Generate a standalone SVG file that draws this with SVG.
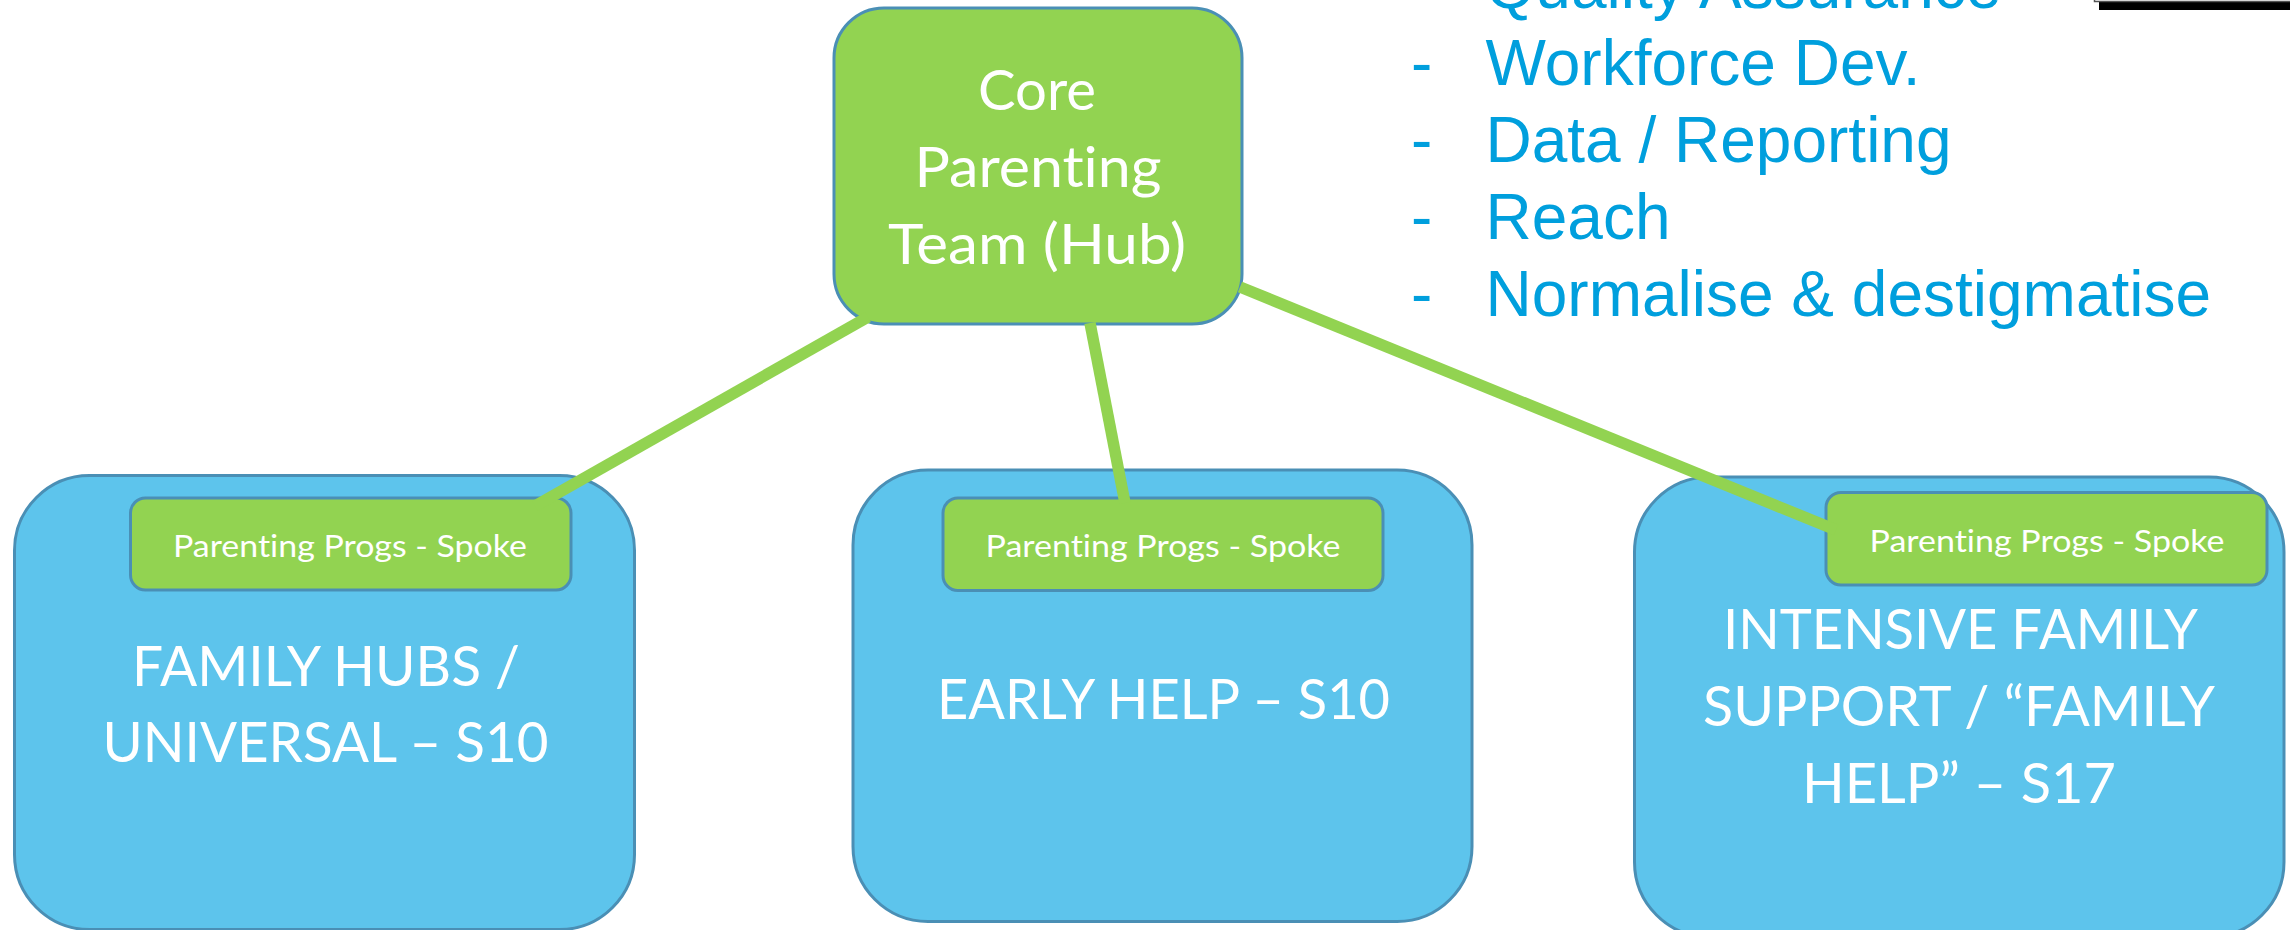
<svg xmlns="http://www.w3.org/2000/svg" width="2290" height="930" viewBox="0 0 2290 930">
<style>
.box{fill:#5DC4EC;stroke:#4A8FB5;stroke-width:3}
.hub,.spoke{fill:#92D351;stroke:#4A8FB5;stroke-width:3}
.link{stroke:#92D351;stroke-width:11.500;fill:none}
.t,.s{font-family:"Lato","Liberation Sans",sans-serif;font-weight:400;fill:#fff;text-anchor:middle;font-variant-ligatures:none}
.t{font-size:56.500px}
.s{font-size:31px}
.l{font-family:"Liberation Sans",Arial,sans-serif;fill:#009FDD;font-size:64px}
</style>
<rect width="2290" height="930" fill="#fff"/>
<g id="hub"><rect class="hub" x="834" y="8" width="408" height="316" rx="50"/>
<text class="t" x="1037" y="110" textLength="118" lengthAdjust="spacingAndGlyphs">Core</text>
<text class="t" x="1038" y="187" textLength="247" lengthAdjust="spacingAndGlyphs">Parenting</text>
<text class="t" x="1037" y="264" textLength="298" lengthAdjust="spacingAndGlyphs">Team (Hub)</text></g>
<g id="family-hubs"><rect class="box" x="14.500" y="475.500" width="620" height="454" rx="75"/>
<text class="t" x="326" y="686" textLength="388" lengthAdjust="spacingAndGlyphs">FAMILY HUBS /</text>
<text class="t" x="325.500" y="762" textLength="446" lengthAdjust="spacingAndGlyphs">UNIVERSAL – S10</text></g>
<g id="spoke-1"><rect class="spoke" x="130.500" y="498" width="440.500" height="92" rx="15"/>
<text class="s" x="350" y="557" textLength="354" lengthAdjust="spacingAndGlyphs">Parenting Progs - Spoke</text></g>
<g id="early-help"><rect class="box" x="853" y="470" width="619" height="451.500" rx="75"/>
<text class="t" x="1163.500" y="719" textLength="453" lengthAdjust="spacingAndGlyphs">EARLY HELP – S10</text></g>
<g id="spoke-2"><rect class="spoke" x="943" y="498" width="440" height="92.500" rx="15"/>
<text class="s" x="1163" y="557" textLength="355" lengthAdjust="spacingAndGlyphs">Parenting Progs - Spoke</text></g>
<g id="intensive"><rect class="box" x="1634.500" y="477" width="649.500" height="460" rx="75"/>
<text class="t" x="1960.500" y="649" textLength="475" lengthAdjust="spacingAndGlyphs">INTENSIVE FAMILY</text>
<text class="t" x="1959" y="726" textLength="512" lengthAdjust="spacingAndGlyphs">SUPPORT / “FAMILY</text>
<text class="t" x="1959" y="803" textLength="314" lengthAdjust="spacingAndGlyphs">HELP” – S17</text></g>
<g id="spoke-3"><rect class="spoke" x="1826" y="492.500" width="441" height="92.500" rx="15"/>
<text class="s" x="2047" y="552" textLength="355" lengthAdjust="spacingAndGlyphs">Parenting Progs - Spoke</text></g>
<g id="list">
<text class="l" x="1485.500" y="8">Quality Assurance</text>
<text class="l" x="1411" y="85">-</text><text class="l" x="1485.500" y="85">Workforce Dev.</text>
<text class="l" x="1411" y="162">-</text><text class="l" x="1485.500" y="162">Data / Reporting</text>
<text class="l" x="1411" y="239">-</text><text class="l" x="1485.500" y="239">Reach</text>
<text class="l" x="1411" y="316">-</text><text class="l" x="1485.500" y="316">Normalise &amp; destigmatise</text>
</g>
<g id="corner"><rect x="2099" y="0" width="191" height="10" fill="#000"/><rect x="2094.500" y="-5" width="200" height="6.500" fill="#fff" stroke="#555" stroke-width="1.500"/></g>
<g id="connectors">
<line class="link" x1="868" y1="317" x2="535" y2="506"/>
<line class="link" x1="1090" y1="323" x2="1125" y2="503"/>
<line class="link" x1="1240" y1="287" x2="1836" y2="530"/>
</g>
</svg>
